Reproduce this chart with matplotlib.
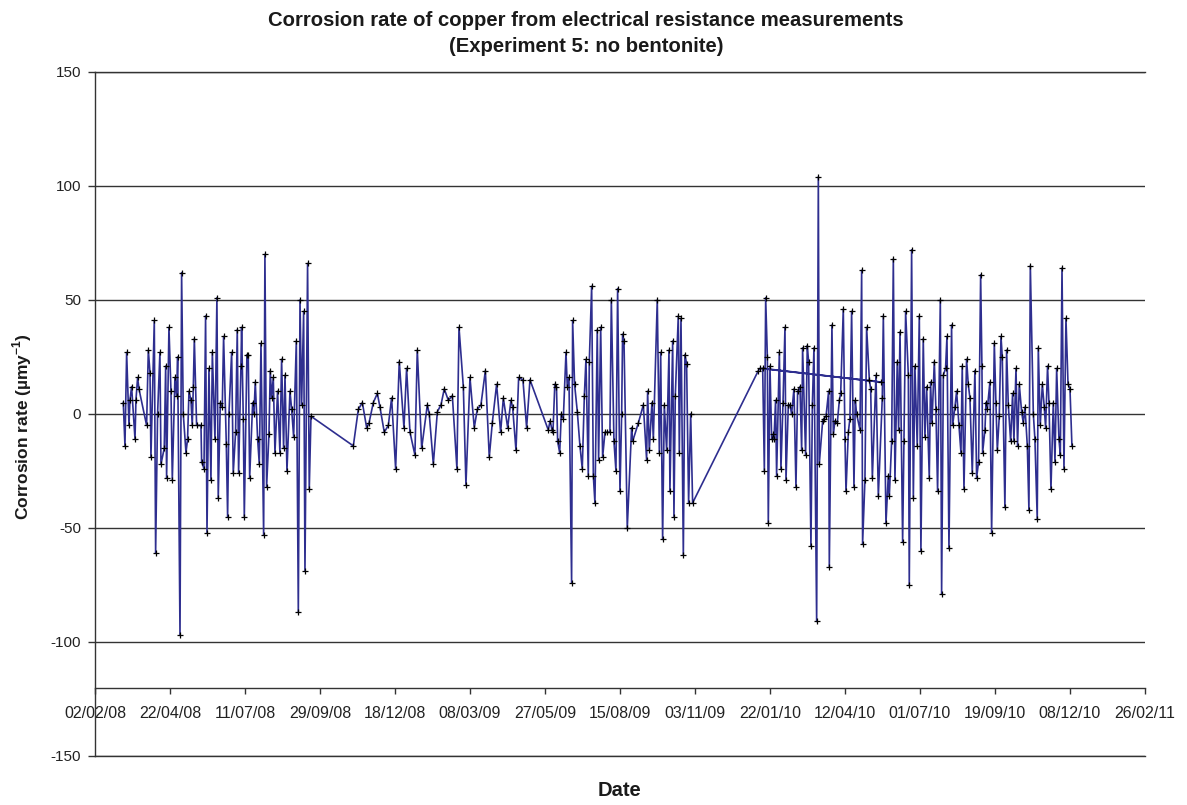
import numpy as np
import matplotlib.pyplot as plt
import matplotlib.dates as mdates

plt.rcParams['axes.unicode_minus'] = False
plt.rcParams['mathtext.fontset'] = 'custom'
plt.rcParams['mathtext.rm'] = 'Liberation Sans'
plt.rcParams['mathtext.bf'] = 'Liberation Sans:bold'

# Experiment 5 (no bentonite): day offset from 02/02/08 and corrosion rate (um/y)
start = np.datetime64('2008-02-02')

days = [
    30.2, 32.0, 33.8, 36.3, 37.3, 39.1, 42.7, 43.7, 45.5, 46.9, 55.1, 56.9, 58.7, 59.7,
    63.3, 64.7, 66.8, 69.3, 70.4, 73.9, 75.4, 76.4, 78.9, 81.1, 82.5, 85.3, 87.1, 88.2,
    90.7, 92.4, 94.2, 97.1, 98.8, 100.3, 102.4, 103.8, 104.9, 106.0, 108.4, 113.1, 113.8,
    116.3, 118.0, 119.5, 121.6, 123.7, 125.2, 128.0, 130.1, 131.5, 133.7, 135.8, 137.2,
    140.1, 141.5, 142.9, 145.8, 147.5, 150.0, 151.8, 153.2, 155.7, 156.4, 158.2, 159.3,
    162.1, 163.5, 165.0, 168.2, 169.6, 171.0, 173.5, 175.3, 177.1, 179.9, 181.3, 183.1,
    185.6, 187.0, 188.4, 190.2, 192.0, 194.8, 197.3, 199.1, 201.2, 202.7, 204.8, 208.0,
    209.8, 211.9, 214.8, 216.9, 218.7, 220.4, 222.6, 224.0, 226.8, 228.6, 230.4,
    275.6, 280.9, 285.2, 289.8, 292.3, 296.9, 301.2, 304.0, 308.6, 312.9, 316.4, 320.7,
    324.6, 329.6, 332.4, 336.0, 341.3, 343.8, 348.5, 354.5, 356.6, 360.9, 365.2, 369.1,
    372.6, 376.9, 381.2, 386.1, 388.3, 392.9, 395.7, 400.0, 404.6, 407.8, 411.7, 416.4,
    420.6, 423.8, 428.4, 432.7, 435.6, 440.2, 443.7, 445.5, 449.1, 451.9, 456.5, 460.4,
    464.0, 483.5, 485.5, 487.5, 488.5, 490.5, 492.3, 493.5, 495.7, 497.4, 499.6, 502.4,
    503.8, 505.6, 508.4, 509.5, 511.6, 514.5, 517.3, 519.8, 522.0, 523.7, 526.2, 527.3,
    529.8, 531.6, 533.3, 535.8, 537.2, 539.4, 541.5, 544.0, 546.5, 549.3, 550.8, 553.6,
    555.7, 557.5, 560.0, 561.8, 562.8, 564.3, 567.8, 572.4, 573.5, 579.6, 584.9, 588.4,
    589.5, 591.3, 594.1, 595.6, 599.8, 602.0, 603.4, 605.5, 607.3, 609.8, 612.3, 613.3,
    616.2, 617.6, 619.0, 622.2, 623.3, 625.1, 627.6, 629.3, 631.1, 633.2, 635.4, 637.5,
    707.6, 709.3, 838.0, 712.2, 714.0, 715.4, 717.2, 718.2, 720.0, 721.8, 722.9, 724.3,
    726.0, 727.1, 730.0, 731.7, 733.9, 736.0, 737.1, 739.6, 741.3, 743.1, 745.6, 747.7,
    749.5, 752.0, 753.8, 754.8, 758.0, 759.8, 761.2, 763.7, 765.2, 766.9, 769.8, 771.6,
    772.6, 776.2, 777.6, 779.8, 782.6, 783.3, 786.1, 787.6, 789.3, 791.8, 794.0, 795.4,
    798.2, 800.0, 801.1, 803.6, 805.3, 807.1, 809.6, 811.0, 812.4, 816.0, 817.8, 818.8,
    821.3, 823.1, 826.0, 827.4, 829.2, 833.1, 835.6, 839.8, 840.9, 843.7, 846.2, 847.3,
    849.8, 851.6, 853.3, 855.8, 857.2, 858.7, 861.5, 862.9, 864.7, 867.6, 868.6, 871.1,
    872.9, 874.6, 877.1, 879.3, 881.0, 883.5, 885.3, 887.1, 889.9, 891.3, 892.8, 895.3,
    897.0, 898.8, 901.7, 903.1, 904.9, 907.3, 908.8, 910.9, 913.7, 914.8, 917.3, 919.1,
    921.6, 923.7, 925.1, 926.9, 929.7, 931.5, 933.3, 935.8, 938.6, 940.4, 942.5, 944.7,
    946.1, 946.8, 949.3, 950.4, 951.8, 954.6, 956.4, 959.3, 961.0, 962.5, 964.6, 966.4,
    967.8, 970.6, 972.4, 974.2, 976.7, 978.8, 980.2, 982.4, 984.1, 985.9, 988.4, 990.2,
    992.0, 994.5, 996.2, 997.7, 1000.9, 1002.6, 1005.1, 1006.2, 1008.3, 1010.5, 1012.6,
    1014.0, 1016.1, 1017.6, 1019.7, 1022.2, 1024.0, 1025.8, 1028.2, 1029.7, 1031.5,
    1033.6, 1035.7, 1037.9, 1040.0, 1042.1,
]

rate = [
    5, -14, 27, -5, 6, 12, -11, 6, 16, 11, -5, 28, 18, -19,
    41, -61, 0, 27, -22, -15, 21, -28, 38, 10, -29, 16, 8, 25,
    -97, 62, 0, -17, -11, 10, 6, -5, 12, 33, -5, -5, -21,
    -24, 43, -52, 20, -29, 27, -11, 51, -37, 5, 3, 34,
    -13, -45, 0, 27, -26, -8, 37, -26, 21, 38, -2, -45,
    26, 26, -28, 5, 0, 14, -11, -22, 31, -53, 70, -32,
    -9, 19, 7, 16, -17, 10, -17, 24, -15, 17, -25, 10,
    2, -10, 32, -87, 50, 4, 45, -69, 66, -33, -1,
    -14, 2, 5, -6, -4, 5, 9, 3, -8, -5, 7, -24,
    23, -6, 20, -8, -18, 28, -15, 4, 0, -22, 1, 4,
    11, 6, 8, -24, 38, 12, -31, 16, -6, 2, 4, 19,
    -19, -4, 13, -8, 7, -6, 6, 3, -16, 16, 15, -6,
    15, -7, -3, -7, -8, 13, 12, -12, -17, 0, -2, 27,
    12, 16, -74, 41, 13, 1, -14, -24, 8, 24, -27, 23,
    56, -27, -39, 37, -20, 38, -19, -8, -8, -8, 50, -12,
    -25, 55, -34, 0, 35, 32, -50, -6, -12, -4, 4, -20,
    10, -16, 5, -11, 50, -17, 27, -55, 4, -16, 28, -34,
    32, -45, 8, 43, -17, 42, -62, 26, 22, -39, 0, -39,
    19, 20, 14, 20, -25, 51, 25, -48, 21, -11, -9, -11,
    6, -27, 27, -24, 5, 38, -29, 4, 4, 0, 11, -32,
    10, 12, -16, 29, -18, 30, 23, -58, 4, 29, -91, 104,
    -22, -3, -2, -1, 10, -67, 39, -9, -3, -4, 6, 9,
    46, -11, -34, -8, -2, 45, -32, 6, 0, -7, 63, -57,
    -29, 38, 15, 11, -28, 17, -36, 7, 43, -48, -27, -36,
    -12, 68, -29, 23, -7, 36, -56, -12, 45, 17, -75, 72,
    -37, 21, -14, 43, -60, 33, -10, 12, -28, 14, -4, 23,
    2, -34, 50, -79, 17, 20, 34, -59, 39, -5, 3, 10,
    -5, -17, 21, -33, 24, 13, 7, -26, 19, -28, -21, 61,
    21, -17, -7, 5, 2, 14, -52, 31, 5, -16, -1, 34,
    25, -41, 28, 4, -12, 9, -12, 20, -14, 13, 1, -4,
    3, -14, -42, 65, 0, -11, -46, 29, -5, 13, 3,
    -6, 21, 5, -33, 5, -21, 20, -11, -18, 64,
    -24, 42, 13, 11, -14,
]

tick_step = 80
n_ticks = 15

dates = start + (np.array(days) * 24).round().astype('timedelta64[h]')
ticks = start + (np.arange(n_ticks) * tick_step).astype('timedelta64[D]')

fig = plt.figure(figsize=(11.87, 8.05), dpi=100)
ax = fig.add_axes([0.0800, 0.0609, 0.8846, 0.8497])

ax.plot(dates, rate, color='#2e2e8f', lw=1.2, marker='+', ms=4.5,
        mec='black', mew=0.9, zorder=3)

grid_c = '#333333'
ax.set_ylim(-150, 150)
ax.set_yticks(range(-150, 151, 50))
ax.yaxis.grid(True, color=grid_c, lw=1.0)
ax.set_axisbelow(True)
ax.axhline(-150, color=grid_c, lw=1.0, clip_on=False, zorder=1)

ax.set_xlim(ticks[0], ticks[-1])
ax.set_xticks(ticks)
ax.xaxis.set_major_formatter(mdates.DateFormatter('%d/%m/%y'))

# category axis crosses at -120
ax.spines['bottom'].set_position(('data', -120))
ax.spines['right'].set_visible(False)
for s in ['left', 'bottom', 'top']:
    ax.spines[s].set_color(grid_c)
    ax.spines[s].set_linewidth(1.0)

ax.tick_params(axis='y', direction='out', length=5, width=1, color=grid_c, pad=5,
               labelsize=11, labelcolor='#222222')
ax.tick_params(axis='x', direction='out', length=4.5, width=1, color=grid_c, pad=9,
               labelsize=11.5, labelcolor='#222222')
for lab in ax.get_yticklabels() + ax.get_xticklabels():
    lab.set_family(['Liberation Sans', 'DejaVu Sans'])

bold = dict(family=['Liberation Sans', 'DejaVu Sans'], weight='bold', color='#1a1a1a')
fig.text(586 / 1187, 1 - 20 / 805, 'Corrosion rate of copper from electrical resistance measurements',
         ha='center', va='center', fontsize=14.6, **bold)
fig.text(586 / 1187, 1 - 47 / 805, '(Experiment 5: no bentonite)',
         ha='center', va='center', fontsize=14.6, **bold)
fig.text(620 / 1187, 1 - 790 / 805, 'Date', ha='center', va='center', fontsize=14.5, **bold)
fig.text(22 / 1187, 1 - 427 / 805, r'Corrosion rate (µmy$^{\mathbf{-1}}$)', ha='center', va='center',
         rotation=90, fontsize=12.5, **bold)

fig.savefig('out.png', dpi=100)
